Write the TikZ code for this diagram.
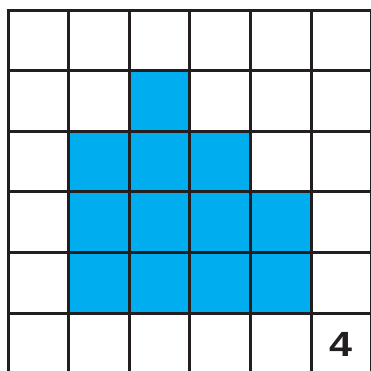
\documentclass[tikz,border=0pt]{standalone}
\usepackage{graphicx}
\usepackage{fontspec}
\setmainfont{Liberation Sans}
\definecolor{cellblue}{HTML}{00AEEF}
\definecolor{gridline}{HTML}{231F20}
\begin{document}
\begin{tikzpicture}[x=1pt,y=-1pt,
  gridstyle/.style={draw=gridline,line width=3pt},
  fillcell/.style={fill=cellblue}]
\useasboundingbox (0,0) rectangle (371,370);
\clip (0,0) rectangle (371,370);
\fill[white] (0,0) rectangle (371,370);
% blue cells: (col,row) with cell size 60.6, origin (8,10)
\foreach \c/\r in {2/1, 1/2, 2/2, 3/2, 1/3, 2/3, 3/3, 4/3, 1/4, 2/4, 3/4, 4/4}{
  \fill[fillcell] ({8+60.6*\c},{10+60.6*\r}) rectangle ({8+60.6*(\c+1)},{10+60.6*(\r+1)});
}
\foreach \i in {0,...,6}{
  \draw[gridstyle] ({8+60.6*\i},10) -- ({8+60.6*\i},380);
  \draw[gridstyle] (8,{10+60.6*\i}) -- (380,{10+60.6*\i});
}
\draw[gridstyle] (6.5,10) -- (380,10);
\node[font=\fontsize{35}{35}\selectfont\bfseries,text=gridline,inner sep=0pt] (four) at (341,344) {\scalebox{1.18}[1]{4}};
\end{tikzpicture}
\end{document}
